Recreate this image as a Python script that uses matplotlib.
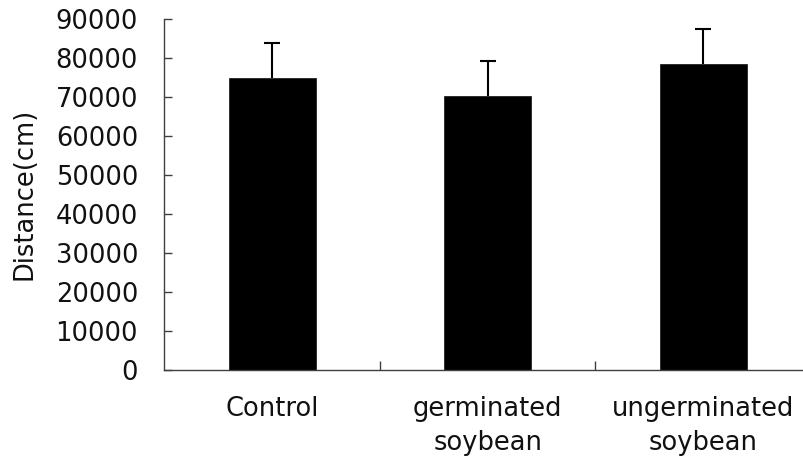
import numpy as np
import matplotlib.pyplot as plt

# Mean distance per group with upper error (SD)
groups = ["Control", "germinated\nsoybean", "ungerminated\nsoybean"]
distance = [74900, 70300, 78500]
distance_err = [9000, 8900, 8900]
yticks = [0, 10000, 20000, 30000, 40000, 50000, 60000, 70000, 80000, 90000]

plt.rcParams['font.family'] = ['DejaVu Sans']

fig = plt.figure(figsize=(8.04, 4.61), dpi=100)
ax = fig.add_axes([164.5 / 804, 91 / 461, 646.5 / 804, 351 / 461])

x = np.arange(len(groups))
ax.bar(x, distance, width=0.404, color='black', edgecolor='#222222', linewidth=0.6, zorder=2)
eb = ax.errorbar(x, distance, yerr=[np.zeros(len(x)), distance_err], fmt='none',
                 ecolor='black', elinewidth=1.5, capsize=5.6, capthick=1.5, zorder=3)
# only the upper cap is wanted
eb[1][0].set_visible(False)

ax.set_xlim(-0.5, 2.5)
ax.set_ylim(0, 90000)

axis_col = '#404040'
for s in ['top', 'right']:
    ax.spines[s].set_visible(False)
for s in ['left', 'bottom']:
    ax.spines[s].set_color(axis_col)
    ax.spines[s].set_linewidth(1.0)

ax.set_yticks(yticks)
ax.set_yticklabels([str(v) for v in yticks])
ax.tick_params(axis='y', direction='in', length=6, width=1, color=axis_col,
               labelsize=18.5, pad=19, labelcolor='#111111')

# category labels under the bars, separator ticks between the categories
ax.set_xticks(x)
ax.set_xticklabels(groups, fontsize=18.5, linespacing=1.4, color='#111111')
ax.tick_params(axis='x', which='major', length=0, pad=19)
ax.set_xticks([0.5, 1.5], minor=True)
ax.tick_params(axis='x', which='minor', direction='in', length=6.5, width=1, color=axis_col)

fig.text(25 / 804, 1 - 194 / 461, "Distance(cm)", rotation=90, fontsize=18.5,
         ha='center', va='center', color='#111111')

fig.savefig('out.png', dpi=100)
